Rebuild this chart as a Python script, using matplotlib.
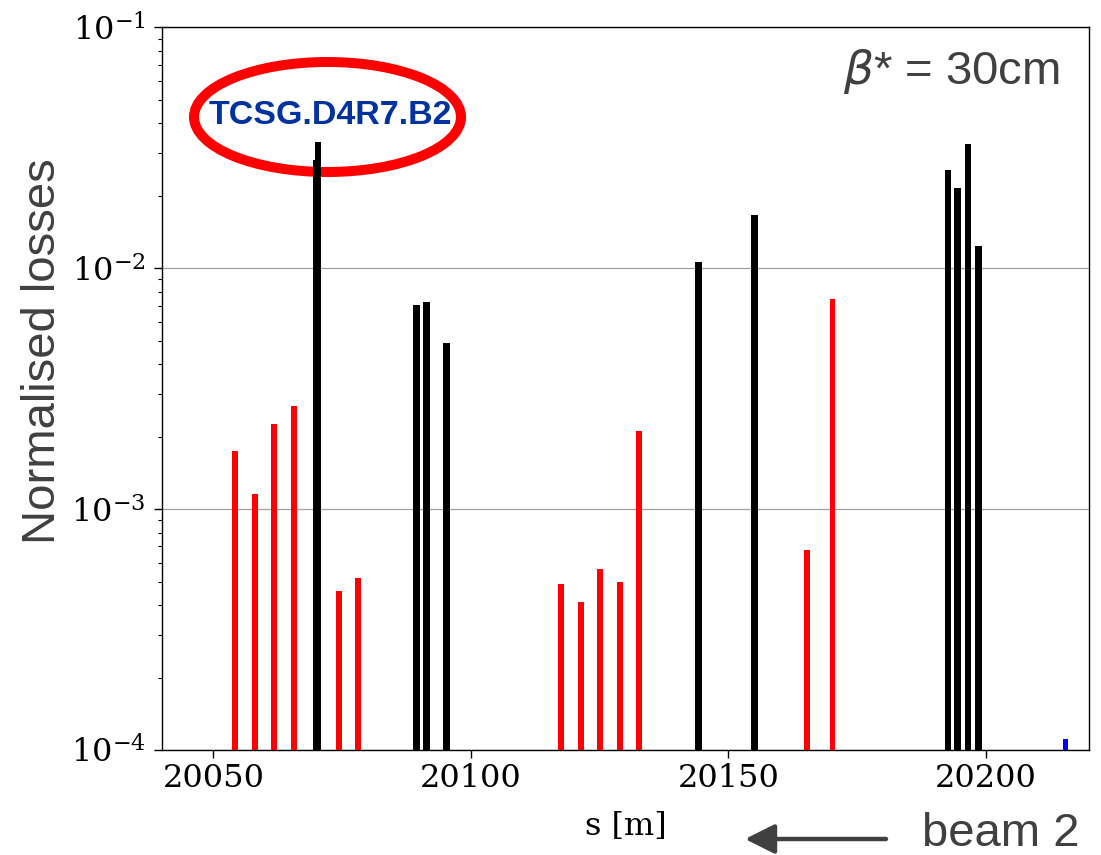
import matplotlib
matplotlib.use('Agg')
import matplotlib.pyplot as plt
from matplotlib.patches import Ellipse

# ---- data ----
red_s = [20054.1, 20058.0, 20061.7, 20065.6, 20074.3, 20078.0,
         20117.4, 20121.3, 20125.0, 20128.9, 20132.6, 20165.3, 20170.2]
red_loss = [1.74e-3, 1.16e-3, 2.26e-3, 2.67e-3, 4.58e-4, 5.18e-4,
            4.87e-4, 4.11e-4, 5.65e-4, 5.0e-4, 2.11e-3, 6.76e-4, 7.43e-3]
black_s = [20070.0, 20070.3, 20089.4, 20091.3, 20095.3, 20144.2, 20155.0,
           20192.6, 20194.5, 20196.5, 20198.5]
black_loss = [0.0282, 0.0335, 7.06e-3, 7.28e-3, 4.90e-3, 0.0106, 0.0167,
              0.0255, 0.0215, 0.0327, 0.0124]
blue_s = [20215.5]
blue_loss = [1.107e-4]
x_ticks = [20050, 20100, 20150, 20200]

W, H = 1101, 855
plt.rcParams['font.family'] = ['DejaVu Serif']
plt.rcParams['mathtext.fontset'] = 'dejavuserif'

fig = plt.figure(figsize=(W / 100, H / 100), dpi=100)
fig.patch.set_facecolor('white')
ax = fig.add_axes([162 / W, 1 - 750 / H, (1089 - 162) / W, (750 - 27.5) / H])
ax.patch.set_alpha(0)

ax.bar(red_s, red_loss, width=1.15, color='#ff0000', zorder=3)
ax.bar(black_s, black_loss, width=1.3, color='black', zorder=3)
ax.bar(blue_s, blue_loss, width=1.0, color='#0000ff', zorder=3)

ax.set_yscale('log')
ax.set_ylim(1e-4, 1e-1)
ax.set_xlim(20040, 20220)
ax.set_xticks(x_ticks)
ax.yaxis.grid(True, which='major', color='#a0a0a0', lw=0.9, zorder=1)
ax.tick_params(axis='both', which='major', labelsize=23, length=6, width=1)
ax.tick_params(axis='y', which='major', pad=6)
ax.tick_params(axis='y', which='minor', length=3, width=0.8)
for sp in ax.spines.values():
    sp.set_linewidth(1.0)
ax.set_xlabel('s [m]', fontsize=23, labelpad=12)

sans = ['Liberation Sans', 'DejaVu Sans']
grey = '#404040'
fig.text(43 / W, 1 - 351 / H, 'Normalised losses', rotation=90, fontsize=34,
         family=sans, color=grey, ha='center', va='center')
fig.text(951 / W, 1 - 72 / H, r'$\beta$* = 30cm', fontsize=34, family=sans,
         color=grey, ha='center', va='center', math_fontfamily='dejavusans')
fig.text(1001 / W, 1 - 834 / H, 'beam 2', fontsize=34, family=sans,
         color=grey, ha='center', va='center')
ax.annotate('', xy=(745, H - 839), xycoords='figure pixels',
            xytext=(886, H - 839), textcoords='figure pixels',
            arrowprops=dict(arrowstyle='-|>,head_length=1.0,head_width=0.5',
                            mutation_scale=18, lw=3.2, color=grey,
                            shrinkA=0, shrinkB=0))

ell = Ellipse((327.5 / W, 1 - 117 / H), 267 / W, 110 / H,
              transform=fig.transFigure, fill=False, edgecolor='#ff0000',
              lw=7.2, zorder=-1)
fig.add_artist(ell)
fig.text(330 / W, 1 - 116 / H, 'TCSG.D4R7.B2', fontsize=24.5, family=sans,
         weight='bold', color='#0033a0', ha='center', va='center')

fig.savefig('out.png', dpi=100, facecolor='white')
